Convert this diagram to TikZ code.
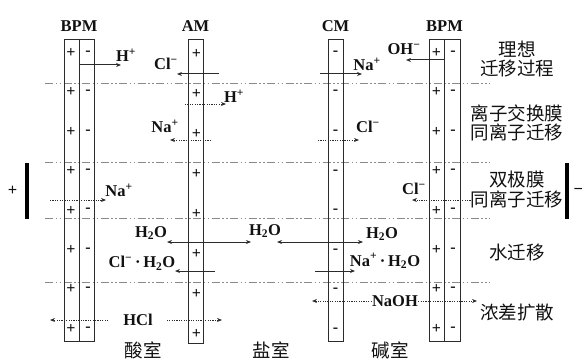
\documentclass[tikz,border=0pt]{standalone}
\usepackage{fontspec}
\setmainfont{Liberation Serif}
\newfontfamily\cjk{Noto Sans CJK SC}
\usetikzlibrary{positioning, arrows.meta, calc}
\definecolor{clrborder}{HTML}{2B2B2B}
\definecolor{clrtext}{HTML}{111111}
\definecolor{clrgrid}{HTML}{8A8A8A}

\begin{document}
\begin{tikzpicture}[
    x=1pt, y=-1pt,
    >={Stealth[length=5pt, width=4pt]},
    every node/.style={text=clrtext},
    membrane/.style={draw=clrborder, line width=0.9pt, inner sep=0pt, minimum height=302pt},
    sign/.style={font=\bfseries\fontsize{16}{16}\selectfont, inner sep=0pt},
    ion/.style={font=\bfseries\fontsize{16.5}{16.5}\selectfont, inner sep=0pt},
    zh/.style={font=\cjk\fontsize{18.5}{19.5}\selectfont, align=center, inner sep=0pt},
    arrow/.style={->, line width=1pt, color=clrborder},
    dotarrow/.style={->, line width=1pt, color=clrborder, dash pattern=on 1.2pt off 1.2pt},
    twoarrow/.style={<->, line width=1pt, color=clrborder},
    sep/.style={color=clrgrid, line width=0.9pt, dash pattern=on 8pt off 2.5pt on 1.5pt off 2.5pt on 1.5pt off 2.5pt},
    electrode/.style={fill=black, minimum width=4.5pt, minimum height=56pt, inner sep=0pt},
]
\useasboundingbox (0,0) rectangle (584,361);

% section separators
\foreach \y in {83,162,218,282}
  \draw[sep] (45,\y) -- (490,\y);

% membranes
\node[membrane, minimum width=30pt] (bpm_a) at (79,190) {};
\node[membrane, minimum width=15pt, minimum height=304pt] (am) at (195.5,191) {};
\node[membrane, minimum width=15pt] (cm) at (335.5,190) {};
\node[membrane, minimum width=31pt] (bpm_b) at (444.5,190) {};
\draw[draw=clrborder, line width=0.9pt] (bpm_a.north) -- (bpm_a.south);
\draw[draw=clrborder, line width=0.9pt] (bpm_b.north) -- (bpm_b.south);

\node[ion, above=7pt of bpm_a] (t_bpm_a) {BPM};
\node[ion, above=7pt of am] (t_am) {AM};
\node[ion, above=7pt of cm] (t_cm) {CM};
\node[ion, above=7pt of bpm_b] (t_bpm_b) {BPM};

% fixed charges
\foreach \k in {0,...,7} {
  \node[sign] (pa_\k) at (71, 53+39.4*\k) {+};
  \node[sign] (ma_\k) at (88, 53+39.4*\k) {-};
  \node[sign] (pm_\k) at (196.5, 54+40*\k) {+};
  \node[sign] (mc_\k) at (335.5, 53+39.6*\k) {-};
  \node[sign] (pb_\k) at (436.5, 53+39.4*\k) {+};
  \node[sign] (mb_\k) at (453, 53+39.4*\k) {-};
}

% ideal transport
\coordinate (c_1) at (121,65);
\draw[arrow] (bpm_a.center |- c_1) -- (c_1);
\node[ion] (l_1) at (126,55) {H\textsuperscript{+}};
\coordinate (c_2a) at (219,74);
\coordinate (c_2b) at (177,74);
\draw[arrow] (c_2a) -- (c_2b);
\node[ion] (l_2) at (166,64) {Cl\textsuperscript{\char"2212}};
\coordinate (c_3a) at (320,74);
\coordinate (c_3b) at (362,74);
\draw[arrow] (c_3a) -- (c_3b);
\node[ion] (l_3) at (367,64) {Na\textsuperscript{+}};
\coordinate (c_4) at (406,60);
\draw[arrow] (bpm_b.center |- c_4) -- (c_4);
\node[ion] (l_4) at (404,49) {OH\textsuperscript{\char"2212}};

% co-ion leakage through AM / CM
\coordinate (c_5a) at (185,104);
\coordinate (c_5b) at (226,104);
\draw[dotarrow] (c_5a) -- (c_5b);
\node[ion] (l_5) at (234,96) {H\textsuperscript{+}};
\coordinate (c_6a) at (211,140);
\coordinate (c_6b) at (170,140);
\draw[dotarrow] (c_6a) -- (c_6b);
\node[ion] (l_6) at (165,126) {Na\textsuperscript{+}};
\coordinate (c_7a) at (318,140);
\coordinate (c_7b) at (359,140);
\draw[dotarrow] (c_7a) -- (c_7b);
\node[ion] (l_7) at (368,127) {Cl\textsuperscript{\char"2212}};

% co-ion leakage through BPM
\coordinate (c_8a) at (50,200);
\coordinate (c_8b) at (106,200);
\draw[dotarrow] (c_8a) -- (c_8b);
\node[ion] (l_8) at (119,190) {Na\textsuperscript{+}};
\node[zh] (z_3) at (517,189.5) {双极膜\\同离子迁移};
\coordinate (c_9) at (412,200);
\draw[dotarrow] (z_3.west |- c_9) -- (c_9);
\node[ion] (l_9) at (414,189) {Cl\textsuperscript{\char"2212}};

% water transport
\coordinate (c_10a) at (167,242);
\coordinate (c_10b) at (251,242);
\draw[twoarrow] (c_10a) -- (c_10b);
\coordinate (c_11a) at (277,242);
\coordinate (c_11b) at (363,242);
\draw[twoarrow] (c_11a) -- (c_11b);
\node[ion] (w_1) at (151,233) {H\textsubscript{2}O};
\node[ion] (w_2) at (265,231) {H\textsubscript{2}O};
\node[ion] (w_3) at (382,234) {H\textsubscript{2}O};
\coordinate (c_12a) at (215,271);
\coordinate (c_12b) at (175,271);
\draw[arrow] (c_12a) -- (c_12b);
\node[ion] (l_12) at (142,263) {Cl\textsuperscript{\char"2212}\,·\,H\textsubscript{2}O};
\coordinate (c_13a) at (315,271);
\coordinate (c_13b) at (355,271);
\draw[arrow] (c_13a) -- (c_13b);
\node[ion] (l_13) at (385,261) {Na\textsuperscript{+}\,·\,H\textsubscript{2}O};

% concentration diffusion
\node[ion] (l_14) at (138,320) {HCl};
\coordinate (c_14a) at (50,320);
\coordinate (c_14b) at (222,320);
\draw[dotarrow] ($(l_14.west)+(-15,0)$) -- (c_14a);
\draw[dotarrow] ($(l_14.east)+(14,0)$) -- (c_14b);
\node[ion] (l_15) at (395,301) {NaOH};
\coordinate (c_15a) at (312,301);
\coordinate (c_15b) at (477,301);
\draw[dotarrow] (l_15.west) -- (c_15a);
\draw[dotarrow] (l_15.east) -- (c_15b);

% electrodes
\node[electrode] (e_a) at (27,191) {};
\node[ion, left=7pt of e_a] (e_a_l) {+};
\node[electrode] (e_b) at (567,191) {};
\node[ion, right=4pt of e_b] (e_b_l) {\char"2212};

% row captions
\node[zh] (z_1) at (517,59) {理想\\迁移过程};
\node[zh] (z_2) at (517,123) {离子交换膜\\同离子迁移};
\node[zh] (z_4) at (517,253) {水迁移};
\node[zh] (z_5) at (517,312) {浓差扩散};

% compartments
\node[zh] (r_1) at (143,350.5) {酸室};
\node[zh] (r_2) at (271,350.5) {盐室};
\node[zh] (r_3) at (390,350.5) {碱室};
\end{tikzpicture}
\end{document}
